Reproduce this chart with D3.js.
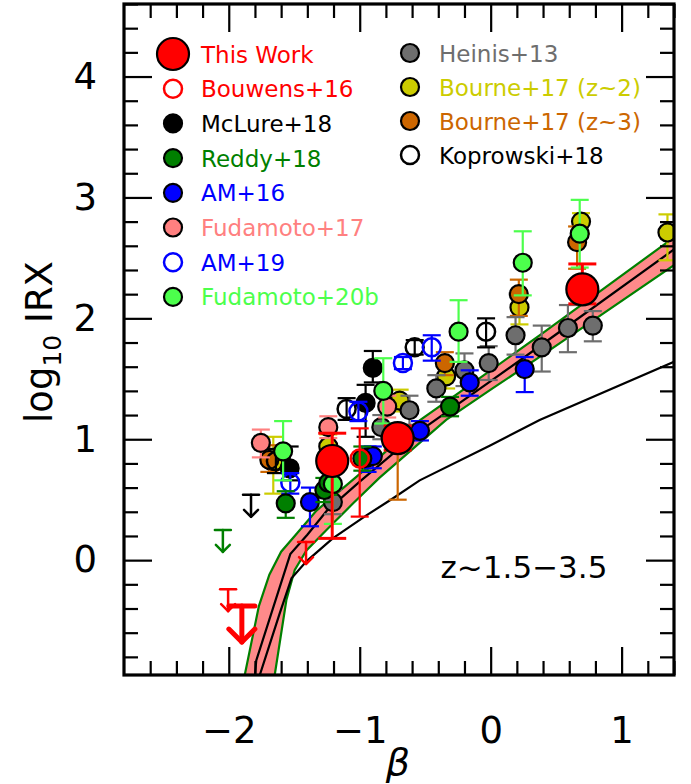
<!DOCTYPE html>
<html>
<head>
<meta charset="utf-8">
<script src="https://cdn.jsdelivr.net/npm/d3@7"></script>
<style>
  body { margin: 0; background: #fff; }
  svg { display: block; }
  text { font-family: "DejaVu Sans", sans-serif; }
</style>
</head>
<body>
<svg id="chart" width="691" height="784"></svg>
<script>
// ---- axes ----
const xDomain = [-2.8, 1.4];
const yDomain = [-0.95, 4.6];
const betaTicks = [-2, -1, 0, 1];
const irxTicks = [0, 1, 2, 3, 4];

// ---- measurements: [beta, log10 IRX, +err, -err] ----
const thisWork = [[-1.21, 0.82, 0.23, 0.64], [-0.71, 1.01, 0.10, 0.10], [0.70, 2.24, 0.21, 0.12]];
const thisWorkLimits = [[-1.90, -0.38]];
const bouwens16 = [[-1.00, 0.84, 0.25, 0.48]];
const bouwens16Limits = [[-2.005, -0.24], [-1.41, 0.15]];
const mclure18 = [[-0.90, 1.59, 0.14, 0.12], [-0.955, 1.30, 0.15, 0.28], [-1.535, 0.76, 0.18, 0.10]];
const mclure18Limits = [[-1.83, 0.54]];
const reddy18 = [[-1.565, 0.47, 0.10, 0.12], [-1.27, 0.58, 0.10, 0.10], [-1.24, 0.64, 0.10, 0.10], [-0.98, 0.84, 0.10, 0.10], [-0.31, 1.27, 0.08, 0.08]];
const reddy18Limits = [[-2.045, 0.25]];
const am16 = [[-1.38, 0.48, 0.12, 0.20], [-0.94, 0.85, 0.09, 0.12], [-0.90, 0.86, 0.08, 0.10], [-0.54, 1.07, 0.08, 0.08], [-0.16, 1.47, 0.10, 0.11], [0.26, 1.58, 0.10, 0.19]];
const fudamoto17 = [[-1.755, 0.97, 0.11, 0.12], [-1.24, 1.10, 0.09, 0.09], [-0.79, 1.27, 0.09, 0.09]];
const am19 = [[-1.53, 0.64, 0.08, 0.09], [-1.01, 1.23, 0.08, 0.08], [-0.67, 1.63, 0.05, 0.05], [-0.45, 1.76, 0.10, 0.11]];
const fudamoto20b = [[-1.585, 0.90, 0.25, 0.24], [-1.205, 0.63, 0.24, 0.33], [-0.82, 1.40, 0.27, 0.27], [-0.245, 1.89, 0.26, 0.25], [0.245, 2.46, 0.26, 0.27], [0.68, 2.70, 0.28, 0.28]];
const heinis13 = [[-1.205, 0.48, 0.10, 0.10], [-0.835, 1.10, 0.10, 0.10], [-0.62, 1.24, 0.12, 0.12], [-0.415, 1.42, 0.11, 0.11], [-0.20, 1.57, 0.14, 0.13], [-0.015, 1.63, 0.14, 0.14], [0.19, 1.86, 0.15, 0.16], [0.39, 1.76, 0.18, 0.20], [0.59, 1.92, 0.19, 0.20], [0.78, 1.94, 0.12, 0.13]];
const bourne17z2 = [[-1.66, 0.81, 0.21, 0.26], [-1.24, 0.94, 0.10, 0.10], [-0.695, 1.32, 0.09, 0.09], [-0.34, 1.52, 0.10, 0.10], [0.22, 2.09, 0.10, 0.14], [0.69, 2.80, 0.07, 0.10], [1.35, 2.71, 0.15, 0.23]];
const bourne17z3 = [[-1.69, 0.83, 0.12, 0.10], [-0.71, 1.00, 0.08, 0.50], [-0.35, 1.63, 0.09, 0.10], [0.215, 2.20, 0.12, 0.18], [0.66, 2.63, 0.13, 0.22]];
const koprowski18 = [[-1.64, 0.82, 0.10, 0.10], [-1.10, 1.25, 0.09, 0.09], [-0.58, 1.76, 0.06, 0.06], [-0.035, 1.89, 0.11, 0.13]];

// ---- relations: [beta, log10 IRX] ----
const bandUpper = [[-1.878, -0.95], [-1.77, -0.38], [-1.69, -0.12], [-1.60, 0.07], [-1.48, 0.22], [-1.33, 0.41], [-0.85, 0.85], [-0.55, 1.15], [0.0, 1.57], [0.4, 1.88], [1.4, 2.67]];
const bandLower = [[-1.649, -0.95], [-1.56, -0.33], [-1.496, -0.08], [-1.407, 0.08], [-1.254, 0.25], [-1.05, 0.47], [-0.85, 0.68], [-0.34, 1.16], [0.0, 1.41], [0.4, 1.70], [1.4, 2.44]];
const bandCentre = [[-1.80, -0.95], [-1.79, -0.83], [-1.53, 0.05], [-1.40, 0.21], [-1.25, 0.41], [-1.0, 0.65], [-0.78, 0.85], [-0.54, 1.07], [0.0, 1.48], [0.4, 1.79], [1.4, 2.57]];
const smcRelation = [[-1.763, -0.95], [-1.611, -0.44], [-1.521, -0.15], [-1.407, -0.01], [-1.206, 0.18], [-0.949, 0.37], [-0.748, 0.51], [-0.542, 0.66], [0.0, 0.95], [0.374, 1.16], [1.4, 1.64]];

// ---- legend ----
const legendLeft = ["This Work", "Bouwens+16", "McLure+18", "Reddy+18", "AM+16", "Fudamoto+17", "AM+19", "Fudamoto+20b"];
const legendRight = ["Heinis+13", "Bourne+17 (z~2)", "Bourne+17 (z~3)", "Koprowski+18"];

const style = {
  "This Work":       { color: "#ff0000", fill: "#ff0000", r: 16, open: false },
  "Bouwens+16":      { color: "#ff0000", fill: "none", r: 9, open: true },
  "McLure+18":       { color: "#000000", fill: "#000000", r: 9, open: false },
  "Reddy+18":        { color: "#007f00", fill: "#007f00", r: 9, open: false },
  "AM+16":           { color: "#0000ff", fill: "#0000ff", r: 9, open: false },
  "Fudamoto+17":     { color: "#ff8080", fill: "#ff8080", r: 9, open: false },
  "AM+19":           { color: "#0000ff", fill: "none", r: 9, open: true },
  "Fudamoto+20b":    { color: "#4cff4c", fill: "#4cff4c", r: 9, open: false },
  "Heinis+13":       { color: "#6e6e6e", fill: "#6e6e6e", r: 9, open: false },
  "Bourne+17 (z~2)": { color: "#cccc00", fill: "#cccc00", r: 9, open: false },
  "Bourne+17 (z~3)": { color: "#cc6600", fill: "#cc6600", r: 9, open: false },
  "Koprowski+18":    { color: "#000000", fill: "none", r: 9, open: true }
};

const svg = d3.select("#chart");
const pL = 124, pR = 674, pT = 4, pB = 675;
const x = d3.scaleLinear().domain(xDomain).range([pL, pR]);
const y = d3.scaleLinear().domain(yDomain).range([pB, pT]);

svg.append("defs").append("clipPath").attr("id", "plotArea")
  .append("rect").attr("x", pL).attr("y", pT).attr("width", pR - pL).attr("height", pB - pT);

const plot = svg.append("g").attr("clip-path", "url(#plotArea)");
const line = d3.line().x(d => x(d[0])).y(d => y(d[1]));

// shaded relation with its bounds
plot.append("path")
  .attr("d", line(bandUpper.concat(bandLower.slice().reverse())) + "Z")
  .attr("fill", "#ff8a8a").attr("stroke", "none");
[bandUpper, bandLower].forEach(c => plot.append("path").attr("d", line(c))
  .attr("fill", "none").attr("stroke", "#008000").attr("stroke-width", 2.2));
[bandCentre, smcRelation].forEach(c => plot.append("path").attr("d", line(c))
  .attr("fill", "none").attr("stroke", "#000").attr("stroke-width", 2.2));

// error bars + markers
function drawSeries(name, data) {
  const s = style[name];
  const big = name === "This Work";
  const cap = big ? 14 : 9;
  const g = plot.append("g");
  data.forEach(d => {
    const cx = x(d[0]), yt = y(d[1] + d[2]), yb = y(d[1] - d[3]);
    g.append("line").attr("x1", cx).attr("x2", cx).attr("y1", yt).attr("y2", yb)
      .attr("stroke", s.color).attr("stroke-width", big ? 3 : 2.2);
    [yt, yb].forEach(yy => g.append("line").attr("x1", cx - cap).attr("x2", cx + cap)
      .attr("y1", yy).attr("y2", yy).attr("stroke", s.color).attr("stroke-width", big ? 3 : 2.2));
  });
  g.selectAll("circle").data(data).join("circle")
    .attr("cx", d => x(d[0])).attr("cy", d => y(d[1])).attr("r", s.r)
    .attr("fill", s.open ? "none" : s.fill)
    .attr("stroke", s.open ? s.color : "#000")
    .attr("stroke-width", s.open ? 2.5 : 2.2);
}

// upper limits drawn as capped downward arrows
function drawLimits(name, data, big) {
  const s = style[name];
  const len = big ? 36 : 22, cap = big ? 13 : 8, head = big ? 13 : 7, w = big ? 5 : 2.5;
  const g = plot.append("g").attr("stroke", s.color).attr("stroke-width", w)
    .attr("fill", "none").attr("stroke-linecap", "round").attr("stroke-linejoin", "round");
  data.forEach(d => {
    const cx = x(d[0]), cy = y(d[1]);
    g.append("line").attr("x1", cx - cap).attr("x2", cx + cap).attr("y1", cy).attr("y2", cy);
    g.append("line").attr("x1", cx).attr("x2", cx).attr("y1", cy).attr("y2", cy + len);
    g.append("path").attr("d", `M${cx - head},${cy + len - head}L${cx},${cy + len}L${cx + head},${cy + len - head}`);
  });
}

drawLimits("Reddy+18", reddy18Limits, false);
drawLimits("McLure+18", mclure18Limits, false);
drawLimits("Bouwens+16", bouwens16Limits, false);
drawLimits("This Work", thisWorkLimits, true);

drawSeries("Bourne+17 (z~2)", bourne17z2);
drawSeries("Bourne+17 (z~3)", bourne17z3);
drawSeries("Heinis+13", heinis13);
drawSeries("Koprowski+18", koprowski18);
drawSeries("McLure+18", mclure18);
drawSeries("AM+16", am16);
drawSeries("AM+19", am19);
drawSeries("Reddy+18", reddy18);
drawSeries("Fudamoto+17", fudamoto17);
drawSeries("Fudamoto+20b", fudamoto20b);
drawSeries("Bouwens+16", bouwens16);
drawSeries("This Work", thisWork);

// ---- frame and ticks ----
const minorX = d3.range(-2.6, 1.41, 0.2).filter(v => Math.abs(v - Math.round(v)) > 1e-6);
const minorY = d3.range(-0.8, 4.61, 0.2).filter(v => Math.abs(v - Math.round(v)) > 1e-6);
const fmt = v => (v < 0 ? "\u2212" : "") + Math.abs(v);

function styleAxis(g) {
  g.select(".domain").remove();
  g.selectAll(".tick line").attr("stroke", "#000").attr("stroke-width", 2.2);
  g.selectAll("text").attr("font-size", 37).attr("fill", "#000")
    .style("font-family", "'DejaVu Sans', sans-serif");
}

svg.append("g").attr("transform", `translate(0,${pB})`)
  .call(d3.axisBottom(x).tickValues(betaTicks).tickSize(-28).tickPadding(42).tickFormat(fmt)).call(styleAxis);
svg.append("g").attr("transform", `translate(0,${pB})`)
  .call(d3.axisBottom(x).tickValues(minorX).tickSize(-14).tickFormat("")).call(styleAxis);
svg.append("g").attr("transform", `translate(0,${pT})`)
  .call(d3.axisTop(x).tickValues(betaTicks).tickSize(-28).tickFormat("")).call(styleAxis);
svg.append("g").attr("transform", `translate(0,${pT})`)
  .call(d3.axisTop(x).tickValues(minorX).tickSize(-14).tickFormat("")).call(styleAxis);
svg.append("g").attr("transform", `translate(${pL},0)`)
  .call(d3.axisLeft(y).tickValues(irxTicks).tickSize(-28).tickPadding(27).tickFormat(fmt)).call(styleAxis);
svg.append("g").attr("transform", `translate(${pL},0)`)
  .call(d3.axisLeft(y).tickValues(minorY).tickSize(-14).tickFormat("")).call(styleAxis);
svg.append("g").attr("transform", `translate(${pR},0)`)
  .call(d3.axisRight(y).tickValues(irxTicks).tickSize(-28).tickFormat("")).call(styleAxis);
svg.append("g").attr("transform", `translate(${pR},0)`)
  .call(d3.axisRight(y).tickValues(minorY).tickSize(-14).tickFormat("")).call(styleAxis);

svg.append("rect").attr("x", pL).attr("y", pT).attr("width", pR - pL).attr("height", pB - pT)
  .attr("fill", "none").attr("stroke", "#000").attr("stroke-width", 3.2);

// ---- axis titles ----
svg.append("text").attr("x", (pL + pR) / 2 - 1).attr("y", 775)
  .attr("text-anchor", "middle").attr("font-size", 38).attr("font-style", "italic").text("\u03b2");

const yTitle = svg.append("text").attr("transform", "translate(52,342) rotate(-90)")
  .attr("text-anchor", "middle").attr("font-size", 37);
yTitle.append("tspan").text("log");
yTitle.append("tspan").attr("font-size", 25).attr("dy", 9).text("10");
yTitle.append("tspan").attr("dy", -9).text(" IRX");

svg.append("text").attr("x", 524).attr("y", 578).attr("text-anchor", "middle")
  .attr("font-size", 31).text("z~1.5\u22123.5");

// ---- legend ----
function drawLegend(names, mx, tx, y0, dy) {
  names.forEach((n, i) => {
    const s = style[n], yy = y0 + i * dy;
    svg.append("circle").attr("cx", mx).attr("cy", yy).attr("r", s.r)
      .attr("fill", s.open ? "none" : s.fill)
      .attr("stroke", s.open ? s.color : "#000").attr("stroke-width", s.open ? 2.5 : 2.2);
    svg.append("text").attr("x", tx).attr("y", yy + 8.5).attr("font-size", 23)
      .attr("fill", s.color).text(n);
  });
}
drawLegend(legendLeft, 173, 201, 54, 34.7);
drawLegend(legendRight, 410, 439, 53, 34);
</script>
</body>
</html>
